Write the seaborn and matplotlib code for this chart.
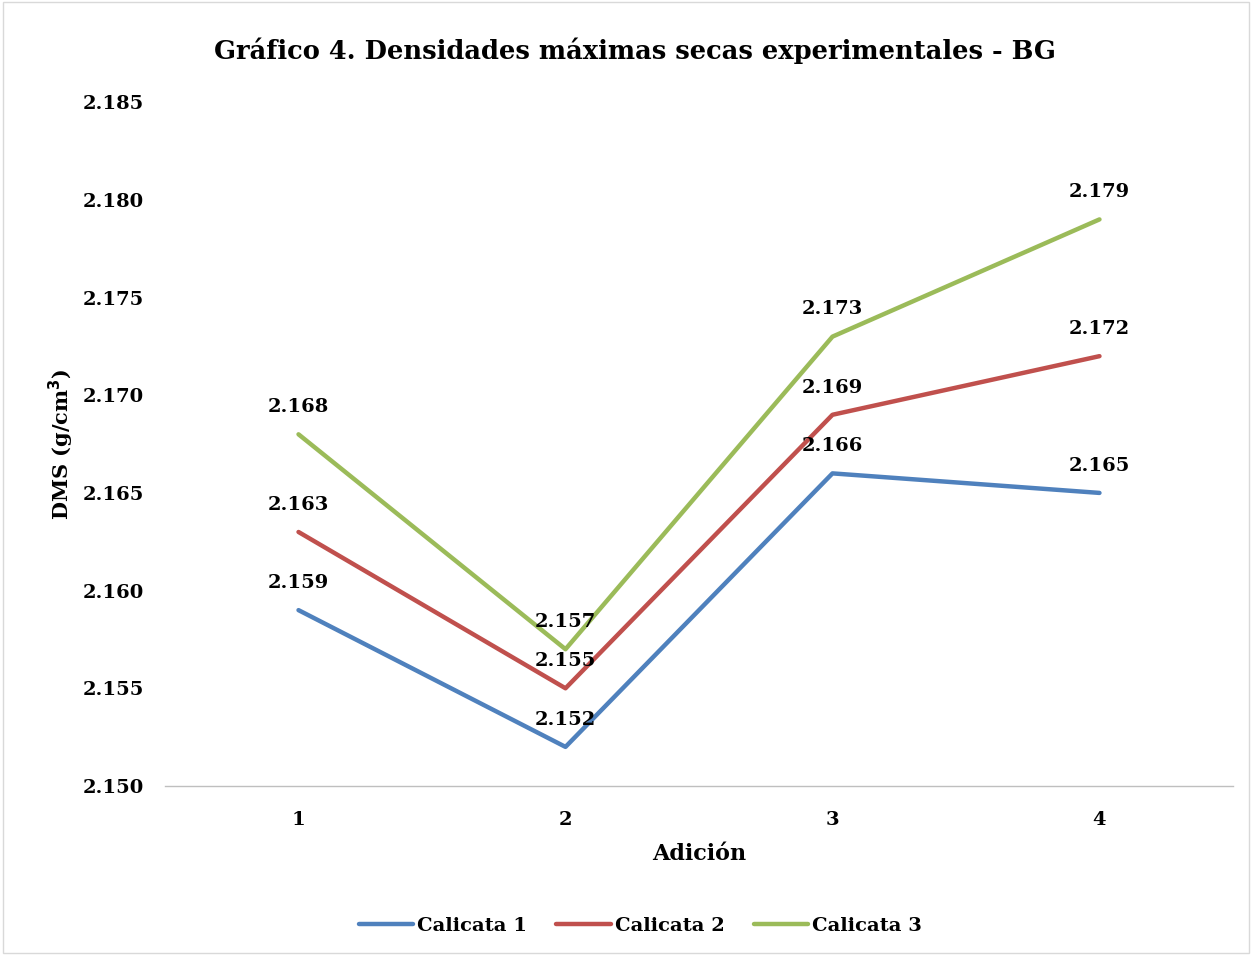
import pandas as pd
import numpy as np
import matplotlib.pyplot as plt
import seaborn as sns

# Data
adicion = [1, 2, 3, 4]
calicata_1 = [2.159, 2.152, 2.166, 2.165]
calicata_2 = [2.163, 2.155, 2.169, 2.172]
calicata_3 = [2.168, 2.157, 2.173, 2.179]
series_names = ["Calicata 1", "Calicata 2", "Calicata 3"]
colors = ["#4F81BD", "#C0504D", "#9BBB59"]

df = pd.DataFrame({
    "Adición": adicion * 3,
    "DMS": calicata_1 + calicata_2 + calicata_3,
    "Serie": [s for s in series_names for _ in adicion],
})

sns.set_style("white")
plt.rcParams['font.family'] = ['DejaVu Serif']
plt.rcParams['font.weight'] = 'bold'
plt.rcParams['text.color'] = 'black'
plt.rcParams['axes.labelcolor'] = 'black'
plt.rcParams['xtick.color'] = 'black'
plt.rcParams['ytick.color'] = 'black'

fig = plt.figure(figsize=(12.52, 9.55), dpi=100)
ax = fig.add_axes([0.1318, 0.177, 0.853, 0.716])

sns.lineplot(data=df, x="Adición", y="DMS", hue="Serie", palette=colors,
             linewidth=3.2, ax=ax)

# Data labels above each point
for _, row in df.iterrows():
    ax.annotate(f"{row['DMS']:.3f}", (row["Adición"], row["DMS"]),
                xytext=(0, 16), textcoords="offset points", ha="center",
                fontsize=14, fontweight="bold", color="black")

ax.set_xlim(0.5, 4.5)
ax.set_ylim(2.150, 2.185)
ax.set_xticks(adicion)
ax.set_yticks(np.arange(2.150, 2.1851, 0.005))
ax.set_yticklabels([f"{v:.3f}" for v in np.arange(2.150, 2.1851, 0.005)])
ax.tick_params(axis="both", labelsize=14, length=0)
ax.tick_params(axis="x", pad=18)
ax.tick_params(axis="y", pad=15)
for lab in ax.get_xticklabels() + ax.get_yticklabels():
    lab.set_fontweight("bold")

for side in ["top", "right", "left"]:
    ax.spines[side].set_visible(False)
ax.spines["bottom"].set_color("#BFBFBF")
ax.spines["bottom"].set_linewidth(1)

ax.set_xlabel("Adición", fontsize=16, fontweight="bold", labelpad=10)
ax.set_ylabel("DMS (g/cm$^\\mathbf{3}$)", fontsize=15, fontweight="bold", labelpad=5)
fig.text(0.507, 0.947, "Gráfico 4. Densidades máximas secas experimentales - BG",
         ha="center", va="center", fontsize=18.5, fontweight="bold")

ax.legend(loc="center", bbox_to_anchor=(0.445, -0.205), ncol=3, frameon=False,
          prop={"size": 14, "weight": "bold"}, handlelength=2.8,
          handletextpad=0.2, columnspacing=1.5)

# Light border around the whole chart
fig.patches.append(plt.Rectangle((0.002, 0.002), 0.996, 0.996, transform=fig.transFigure,
                                 fill=False, edgecolor="#D9D9D9", linewidth=1))

fig.savefig("out.png", dpi=100)
